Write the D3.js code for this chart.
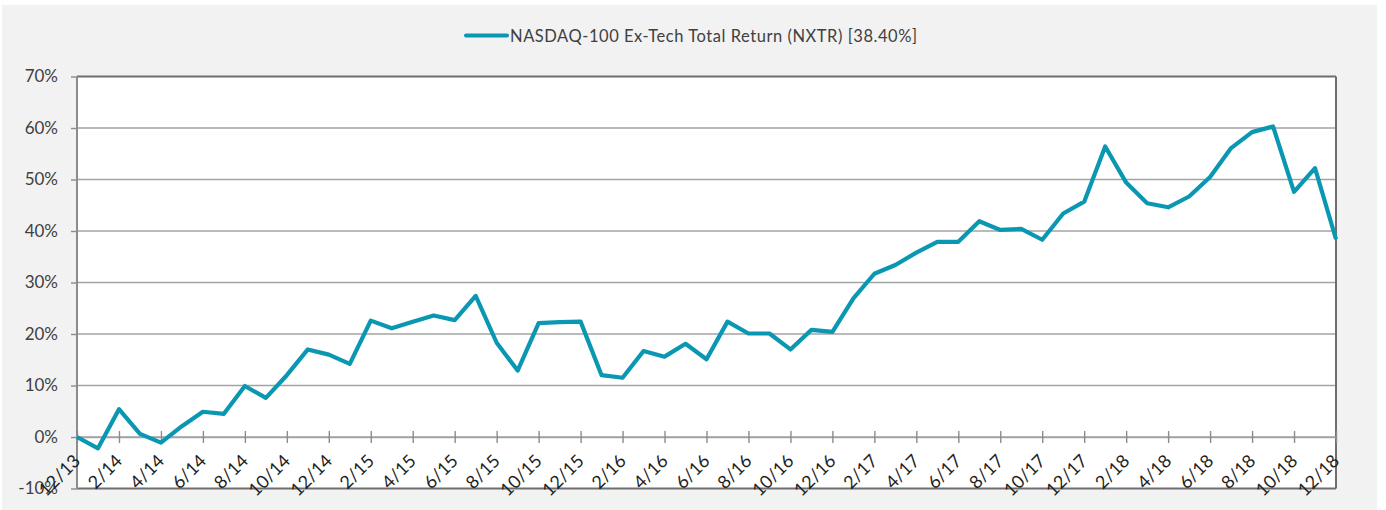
<!DOCTYPE html>
<html lang="en">
<head>
  <meta charset="UTF-8">
  <title>NXTR</title>
  <script src="https://cdn.jsdelivr.net/npm/d3@7/dist/d3.min.js"></script>
  <style>
    body { margin: 0; background: #fff; }
    text { font-family: Lato, "Open Sans", sans-serif; }
  </style>
</head>
<body>
<script>
  // monthly points, 12/13 .. 12/18
  const months = [
    '12/13','1/14','2/14','3/14','4/14','5/14','6/14','7/14','8/14','9/14','10/14','11/14','12/14',
    '1/15','2/15','3/15','4/15','5/15','6/15','7/15','8/15','9/15','10/15','11/15','12/15',
    '1/16','2/16','3/16','4/16','5/16','6/16','7/16','8/16','9/16','10/16','11/16','12/16',
    '1/17','2/17','3/17','4/17','5/17','6/17','7/17','8/17','9/17','10/17','11/17','12/17',
    '1/18','2/18','3/18','4/18','5/18','6/18','7/18','8/18','9/18','10/18','11/18','12/18'
  ];
  const nxtr = [
    0.0, -2.2, 5.4, 0.6, -1.1, 2.1, 4.9, 4.5, 9.9, 7.6, 12.0, 17.0, 16.0,
    14.2, 22.6, 21.1, 22.4, 23.6, 22.7, 27.4, 18.3, 12.9, 22.1, 22.3, 22.4,
    12.0, 11.5, 16.7, 15.6, 18.1, 15.1, 22.4, 20.1, 20.1, 17.0, 20.8, 20.4,
    26.9, 31.7, 33.4, 35.8, 37.9, 37.9, 41.9, 40.2, 40.4, 38.3, 43.4, 45.7,
    56.4, 49.4, 45.4, 44.6, 46.7, 50.5, 56.1, 59.2, 60.3, 47.6, 52.2, 38.4
  ];
  const xTicks = months.filter((m, i) => i % 2 === 0);
  const yTicks = [-10, 0, 10, 20, 30, 40, 50, 60, 70];
  const seriesName = 'NASDAQ-100 Ex-Tech Total Return (NXTR) [38.40%]';

  const W = 1386, H = 510;
  const plotL = 77, plotR = 1336, plotT = 76.5, plotB = 488.5;
  const lineColor = '#0a97b2';

  const svg = d3.select('body').append('svg')
    .attr('width', W).attr('height', H);

  svg.append('rect').attr('x', 2).attr('y', 5)
    .attr('width', 1375).attr('height', 505).attr('fill', '#f2f2f2');

  const x = d3.scalePoint().domain(months).range([plotL, plotR]).padding(0);
  const y = d3.scaleLinear().domain([-10, 70]).range([plotB, plotT]);

  svg.append('rect').attr('x', plotL).attr('y', plotT)
    .attr('width', plotR - plotL).attr('height', plotB - plotT).attr('fill', '#fff');

  // gridlines
  svg.append('g').selectAll('line').data(yTicks.filter(d => d > -10 && d < 70))
    .join('line')
    .attr('x1', plotL).attr('x2', plotR)
    .attr('y1', d => y(d)).attr('y2', d => y(d))
    .attr('stroke', '#a3a3a3').attr('stroke-width', 1.4);

  // y axis with outward ticks
  const yAxis = svg.append('g').attr('transform', `translate(${plotL},0)`)
    .call(d3.axisLeft(y).tickValues(yTicks).tickSize(6).tickPadding(12).tickFormat(d => d + '%'));
  yAxis.select('.domain').remove();
  yAxis.selectAll('.tick line').attr('stroke', '#8c8c8c').attr('stroke-width', 1.4);
  yAxis.selectAll('.tick text').attr('font-size', 17).attr('fill', '#404040')
    .attr('x', -19);

  // frame
  svg.append('line').attr('x1', plotL).attr('x2', plotR).attr('y1', plotT).attr('y2', plotT)
    .attr('stroke', '#6e6e6e').attr('stroke-width', 2);
  svg.append('line').attr('x1', plotL).attr('x2', plotR).attr('y1', plotB).attr('y2', plotB)
    .attr('stroke', '#6e6e6e').attr('stroke-width', 2);
  svg.append('line').attr('x1', plotR).attr('x2', plotR).attr('y1', plotT).attr('y2', plotB)
    .attr('stroke', '#6e6e6e').attr('stroke-width', 2);
  svg.append('line').attr('x1', plotL).attr('x2', plotL).attr('y1', plotT).attr('y2', plotB)
    .attr('stroke', '#8c8c8c').attr('stroke-width', 2);

  // x axis at 0%, ticks crossing
  const xAxis = svg.append('g').attr('transform', `translate(0,${y(0)})`)
    .call(d3.axisBottom(x).tickValues(xTicks).tickSizeInner(6).tickSizeOuter(0));
  xAxis.select('.domain').attr('stroke', '#a3a3a3').attr('stroke-width', 1.6);
  xAxis.selectAll('.tick line').attr('y1', -6).attr('y2', 6)
    .attr('stroke', '#8c8c8c').attr('stroke-width', 1.4);
  xAxis.selectAll('.tick text')
    .attr('y', 0).attr('dy', 0)
    .attr('transform', 'translate(4,25) rotate(-45)')
    .attr('text-anchor', 'end')
    .attr('font-size', 18).attr('fill', '#1f1f1f');

  // series line
  const line = d3.line().x((d, i) => x(months[i])).y(d => y(d));
  svg.append('path').datum(nxtr)
    .attr('d', line)
    .attr('fill', 'none').attr('stroke', lineColor)
    .attr('stroke-width', 4.2).attr('stroke-linejoin', 'round');

  // legend
  const lg = svg.append('g');
  lg.append('line').attr('x1', 466).attr('x2', 507).attr('y1', 35.5).attr('y2', 35.5)
    .attr('stroke', lineColor).attr('stroke-width', 4).attr('stroke-linecap', 'round');
  lg.append('text').attr('x', 510).attr('y', 41.5)
    .attr('font-size', 16.5).attr('fill', '#404040')
    .attr('textLength', 407).attr('lengthAdjust', 'spacing')
    .text(seriesName);
</script>
</body>
</html>
